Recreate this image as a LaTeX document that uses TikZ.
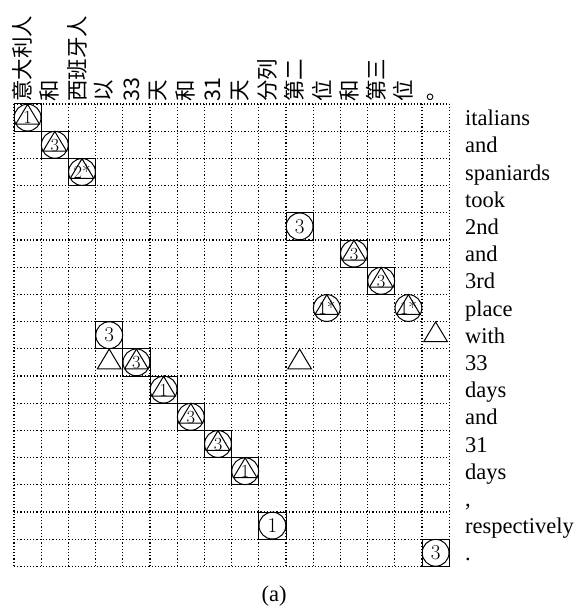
\documentclass[tikz,border=0pt]{standalone}
\usepackage{fontspec}
\newfontfamily\cjk{Noto Sans CJK SC}
\newfontfamily\tnr{Liberation Serif}
\begin{document}
\begin{tikzpicture}[x=1pt,y=-1pt,
  gridline/.style={line width=1.2pt,dash pattern=on 1.1pt off 2.1pt},
  solidline/.style={line width=1pt},
  collabel/.style={rotate=90,anchor=west,inner sep=0pt,font=\cjk\fontsize{21.5}{21.5}\selectfont},
  rowlabel/.style={anchor=base west,inner sep=0pt,font=\tnr\fontsize{22.5}{22.5}\selectfont},
  trinum/.style={anchor=base,inner sep=0pt,font=\fontsize{18.5}{18.5}\selectfont},
  circnum/.style={anchor=center,inner sep=0pt,font=\fontsize{21}{21}\selectfont}]
\useasboundingbox (0,0) rectangle (578,607);
% grid
\foreach \i in {0,...,16} \draw[gridline] ({14+27.2*\i},104) -- ({14+27.2*\i},566.4);
\foreach \j in {0,...,17} \draw[gridline] (14,{104+27.2*\j}) -- (449.2,{104+27.2*\j});
% column labels
\foreach \lab [count=\i] in {意大利人,和,西班牙人,以,33,天,和,31,天,分列,第二,位,和,第三,位,。}
  \node[collabel] (col\i) at ({14+27.2*(\i-0.5)-5},102) {\lab};
% row labels
\foreach \lab [count=\j] in {italians,and,spaniards,took,2nd,and,3rd,place,with,33,days,and,31,days,{,},respectively,.}
  \node[rowlabel] (row\j) at (465,{104+27.2*(\j-0.5)+8}) {\lab};
% box + circle + triangle + number
\foreach \c/\r/\n [count=\k] in {1/1/1,2/2/3,3/3/2*,13/6/3,14/7/3,5/10/3,6/11/1,7/12/3,8/13/3,9/14/1}{
  \draw[solidline] ({14+27.2*(\c-1)},{104+27.2*(\r-1)}) rectangle +(27.2,27.2);
  \draw[solidline] ({14+27.2*(\c-0.5)},{104+27.2*(\r-0.5)}) circle (13.4pt);
  \draw[solidline,line join=miter] ({14+27.2*(\c-0.5)},{104+27.2*(\r-1)+0.3}) -- +(-11.8,19.7) -- +(11.8,19.7) -- cycle;
  \node[trinum] (bt\k) at ({14+27.2*(\c-0.5)},{104+27.2*(\r-1)+20}) {\n};
}
% circle + triangle + number (no box)
\foreach \c/\r/\n [count=\k] in {12/8/1*,15/8/1*}{
  \draw[solidline] ({14+27.2*(\c-0.5)},{104+27.2*(\r-0.5)}) circle (13.4pt);
  \draw[solidline,line join=miter] ({14+27.2*(\c-0.5)},{104+27.2*(\r-1)+0.3}) -- +(-11.8,19.7) -- +(11.8,19.7) -- cycle;
  \node[trinum] (ct\k) at ({14+27.2*(\c-0.5)},{104+27.2*(\r-1)+20}) {\n};
}
% box + circle + number
\foreach \c/\r/\n [count=\k] in {11/5/3,4/9/3,10/16/1,16/17/3}{
  \draw[solidline] ({14+27.2*(\c-1)},{104+27.2*(\r-1)}) rectangle +(27.2,27.2);
  \draw[solidline] ({14+27.2*(\c-0.5)},{104+27.2*(\r-0.5)}) circle (13.4pt);
  \node[circnum] (bc\k) at ({14+27.2*(\c-0.5)},{104+27.2*(\r-0.5)}) {\n};
}
% triangle only
\foreach \c/\r in {16/9,4/10,11/10}
  \draw[solidline,line join=miter] ({14+27.2*(\c-0.5)},{104+27.2*(\r-1)+0.3}) -- +(-11.8,19.7) -- +(11.8,19.7) -- cycle;
% caption
\node[inner sep=0pt,font=\tnr\fontsize{22.5}{22.5}\selectfont] (cap) at (274,596) {(a)};
\end{tikzpicture}
\end{document}
